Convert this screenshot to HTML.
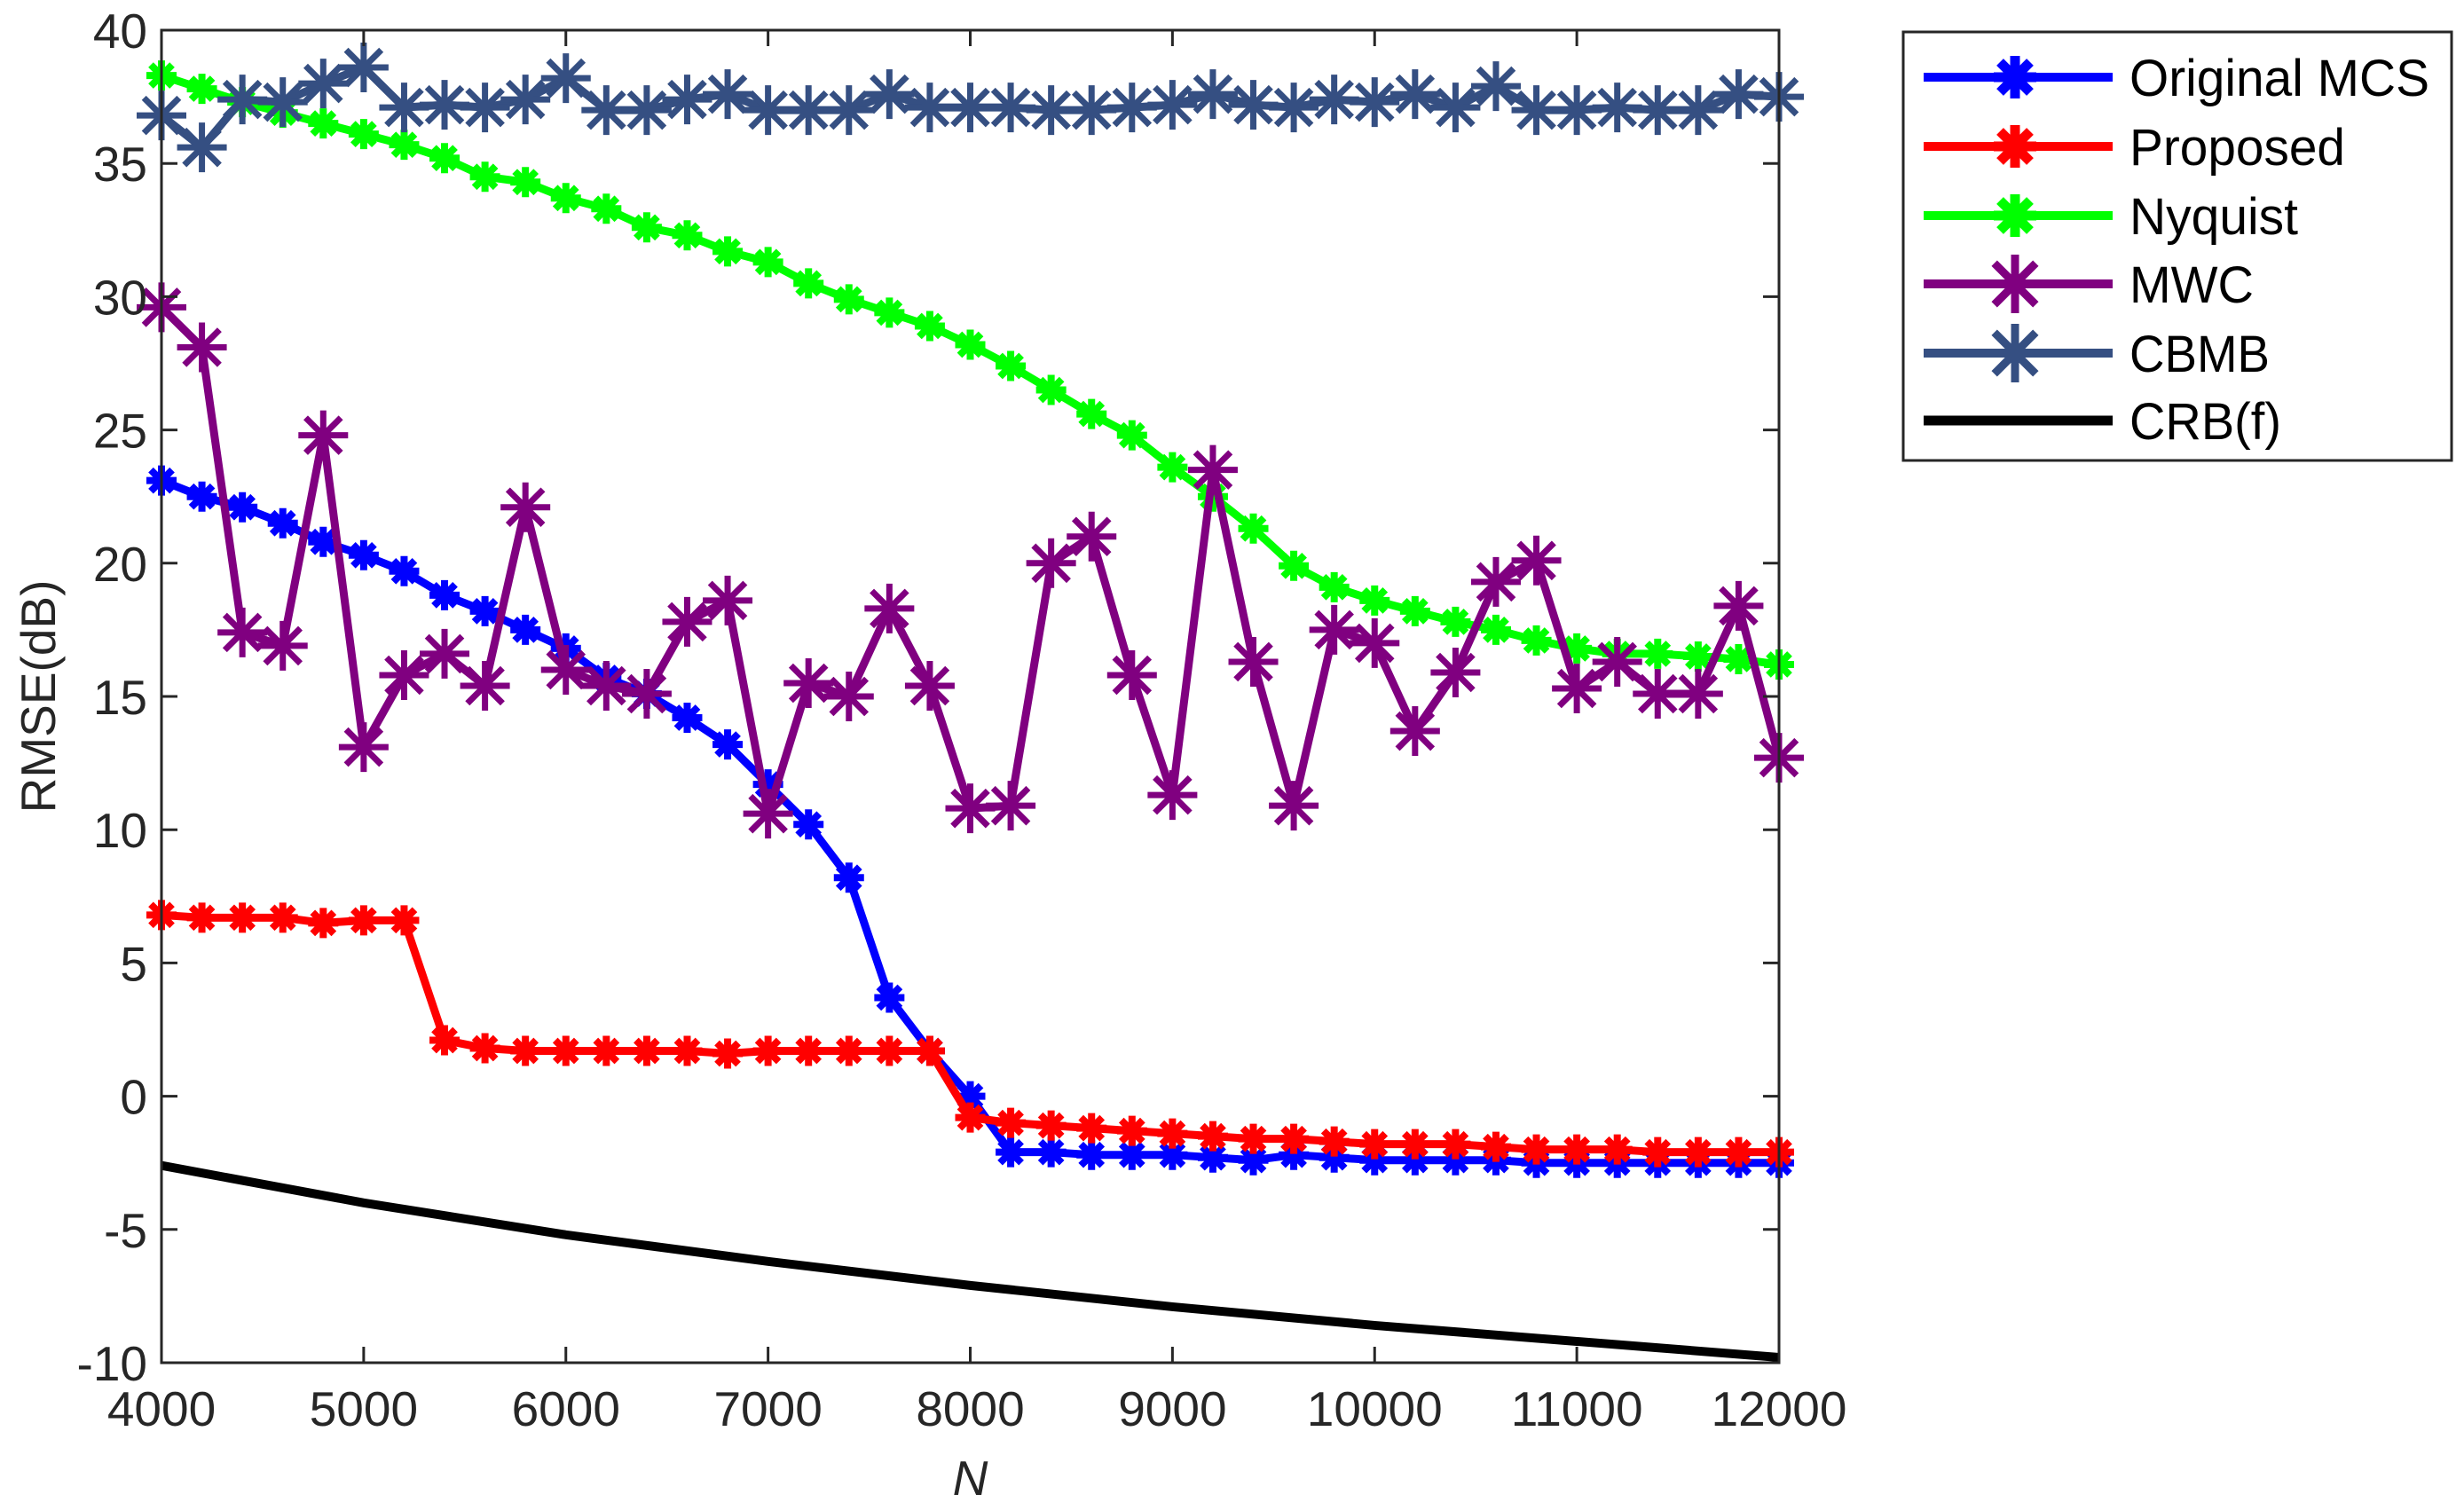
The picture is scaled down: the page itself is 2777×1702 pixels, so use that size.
<!DOCTYPE html>
<html><head><meta charset="utf-8"><style>
html,body{margin:0;padding:0;background:#fff;}
svg{display:block;font-family:"Liberation Sans",Arial,sans-serif;}
</style></head><body>
<svg id="chart" width="2777" height="1702" viewBox="0 0 2777 1702" xmlns="http://www.w3.org/2000/svg">
<rect width="2777" height="1702" fill="#fff"/>
<g id="series"></g>
<g id="axes"></g>
<g id="legend"></g>
</svg>
<script>
const xVals = [4000,4200,4400,4600,4800,5000,5200,5400,5600,5800,6000,6200,6400,6600,6800,7000,7200,7400,7600,7800,8000,8200,8400,8600,8800,9000,9200,9400,9600,9800,10000,10200,10400,10600,10800,11000,11200,11400,11600,11800,12000];
const origMCS = [23.1,22.5,22.1,21.5,20.8,20.3,19.7,18.8,18.2,17.5,16.8,15.7,15.1,14.2,13.2,11.7,10.2,8.2,3.7,1.7,0.0,-2.1,-2.1,-2.2,-2.2,-2.2,-2.3,-2.4,-2.2,-2.3,-2.4,-2.4,-2.4,-2.4,-2.5,-2.5,-2.5,-2.5,-2.5,-2.5,-2.5];
const proposed = [6.8,6.7,6.7,6.7,6.5,6.6,6.6,2.1,1.8,1.7,1.7,1.7,1.7,1.7,1.6,1.7,1.7,1.7,1.7,1.7,-0.8,-1.0,-1.1,-1.2,-1.3,-1.4,-1.5,-1.6,-1.6,-1.7,-1.8,-1.8,-1.8,-1.9,-2.0,-2.0,-2.0,-2.1,-2.1,-2.1,-2.1];
const nyquist = [38.3,37.8,37.3,36.9,36.5,36.1,35.7,35.2,34.5,34.3,33.7,33.3,32.6,32.3,31.7,31.3,30.5,29.9,29.4,28.9,28.2,27.4,26.5,25.6,24.8,23.6,22.5,21.3,19.9,19.1,18.6,18.2,17.8,17.5,17.1,16.8,16.6,16.6,16.5,16.4,16.2];
const mwc = [29.6,28.1,17.4,16.9,24.8,13.1,15.8,16.6,15.4,22.1,16.0,15.4,15.1,17.8,18.6,10.6,15.5,15.0,18.3,15.4,10.8,10.9,20.0,21.0,15.8,11.3,23.5,16.3,10.9,17.5,17.0,13.7,15.9,19.3,20.1,15.3,16.3,15.1,15.1,18.4,12.7];
const cbmb = [36.8,35.6,37.4,37.3,38.0,38.6,37.1,37.2,37.1,37.4,38.2,37.0,37.0,37.4,37.6,37.0,37.0,37.0,37.6,37.1,37.1,37.1,37.0,37.0,37.1,37.2,37.6,37.2,37.1,37.4,37.3,37.6,37.1,37.9,37.0,37.0,37.1,37.0,37.0,37.6,37.5];
const crbX = [4000,5000,6000,7000,8000,9000,10000,11000,12000];
const crb = [-2.6,-4.0,-5.2,-6.2,-7.1,-7.9,-8.6,-9.2,-9.8];
const xTicks = [4000,5000,6000,7000,8000,9000,10000,11000,12000];
const yTicks = [-10,-5,0,5,10,15,20,25,30,35,40];
const legendLabels = ["Original MCS","Proposed","Nyquist","MWC","CBMB","CRB(f)"];

const L=182,R=2005,T=34,B=1536;
const X0=4000,X1=12000,Y0=-10,Y1=40;
const sx=v=>L+(v-X0)/(X1-X0)*(R-L);
const sy=v=>B-(v-Y0)/(Y1-Y0)*(B-T);
const NS="http://www.w3.org/2000/svg";
function mk(tag,attrs,parent){const e=document.createElementNS(NS,tag);for(const k in attrs)e.setAttribute(k,attrs[k]);parent.appendChild(e);return e;}
function star(g,cx,cy,r,color,sw){
  const d=r*0.7071;
  mk('path',{d:`M${cx-r},${cy}H${cx+r}M${cx},${cy-r}V${cy+r}M${cx-d},${cy-d}L${cx+d},${cy+d}M${cx-d},${cy+d}L${cx+d},${cy-d}`,stroke:color,'stroke-width':sw,fill:'none'},g);
}
const seriesG=document.getElementById('series');
const defs=[
 {name:'original-mcs',data:origMCS,color:'#0000ff',r:17,sw:8},
 {name:'proposed',data:proposed,color:'#ff0000',r:17,sw:8},
 {name:'nyquist',data:nyquist,color:'#00ff00',r:17,sw:8},
 {name:'mwc',data:mwc,color:'#800080',r:28,sw:7},
 {name:'cbmb',data:cbmb,color:'#354f82',r:28,sw:7}
];
defs.forEach(s=>{
  const g=mk('g',{},seriesG);
  
  
  const pts=xVals.map((x,i)=>sx(x)+','+sy(s.data[i])).join(' ');
  const pl=mk('polyline',{points:pts,fill:'none',stroke:s.color,'stroke-width':9,'stroke-linejoin':'round'},g);
  
  
  xVals.forEach((x,i)=>star(g,sx(x),sy(s.data[i]),s.r,s.color,s.sw));
});
{
  const pl=mk('polyline',{points:crbX.map((x,i)=>sx(x)+','+sy(crb[i])).join(' '),fill:'none',stroke:'#000','stroke-width':10},seriesG);
  
  
}
const axG=document.getElementById('axes');
const box=mk('rect',{x:L,y:T,width:R-L,height:B-T,fill:'none',stroke:'#262626','stroke-width':3},axG);


xTicks.forEach(v=>{
  const x=sx(v);
  mk('line',{x1:x,y1:B,x2:x,y2:B-18,stroke:'#262626','stroke-width':3},axG);
  mk('line',{x1:x,y1:T,x2:x,y2:T+18,stroke:'#262626','stroke-width':3},axG);
  const t=mk('text',{x:x,y:1607,'text-anchor':'middle','font-size':55,fill:'#262626'},axG);
  t.textContent=v;
  
  
});
yTicks.forEach(v=>{
  const y=sy(v);
  mk('line',{x1:L,y1:y,x2:L+18,y2:y,stroke:'#262626','stroke-width':3},axG);
  mk('line',{x1:R,y1:y,x2:R-18,y2:y,stroke:'#262626','stroke-width':3},axG);
  const t=mk('text',{x:166,y:y+20,'text-anchor':'end','font-size':55,fill:'#262626'},axG);
  t.textContent=v;
  
  
});
const yt=mk('text',{x:62,y:(T+B)/2,'text-anchor':'middle','font-size':55,fill:'#262626',transform:`rotate(-90 62 ${(T+B)/2})`},axG);
yt.textContent='RMSE(dB)';


const xt=mk('text',{x:(L+R)/2,y:1685,'text-anchor':'middle','font-size':55,'font-style':'italic',fill:'#262626'},axG);
xt.textContent='N';



const lg=document.getElementById('legend');
mk('rect',{x:2145,y:36,width:618,height:483,fill:'#fff',stroke:'#262626','stroke-width':3},lg);
const lcolors=['#0000ff','#ff0000','#00ff00','#800080','#354f82','#000'];
const lys=[87,165,243,320,398,474];
const lwidths=[338,243,190,140,158,171];
legendLabels.forEach((lab,i)=>{
  const g=mk('g',{},lg);
  
  
  const y=lys[i];
  mk('line',{x1:2168,y1:y,x2:2381,y2:y,stroke:lcolors[i],'stroke-width':i===5?11:10},g);
  if(i<5) star(g,2271,y,i<3?24:33,lcolors[i],i<3?11:9);
  const t=mk('text',{x:2400,y:y+21,'font-size':58,fill:'#000',textLength:lwidths[i],lengthAdjust:'spacingAndGlyphs'},g);
  t.textContent=lab;
});
</script>
</body></html>
